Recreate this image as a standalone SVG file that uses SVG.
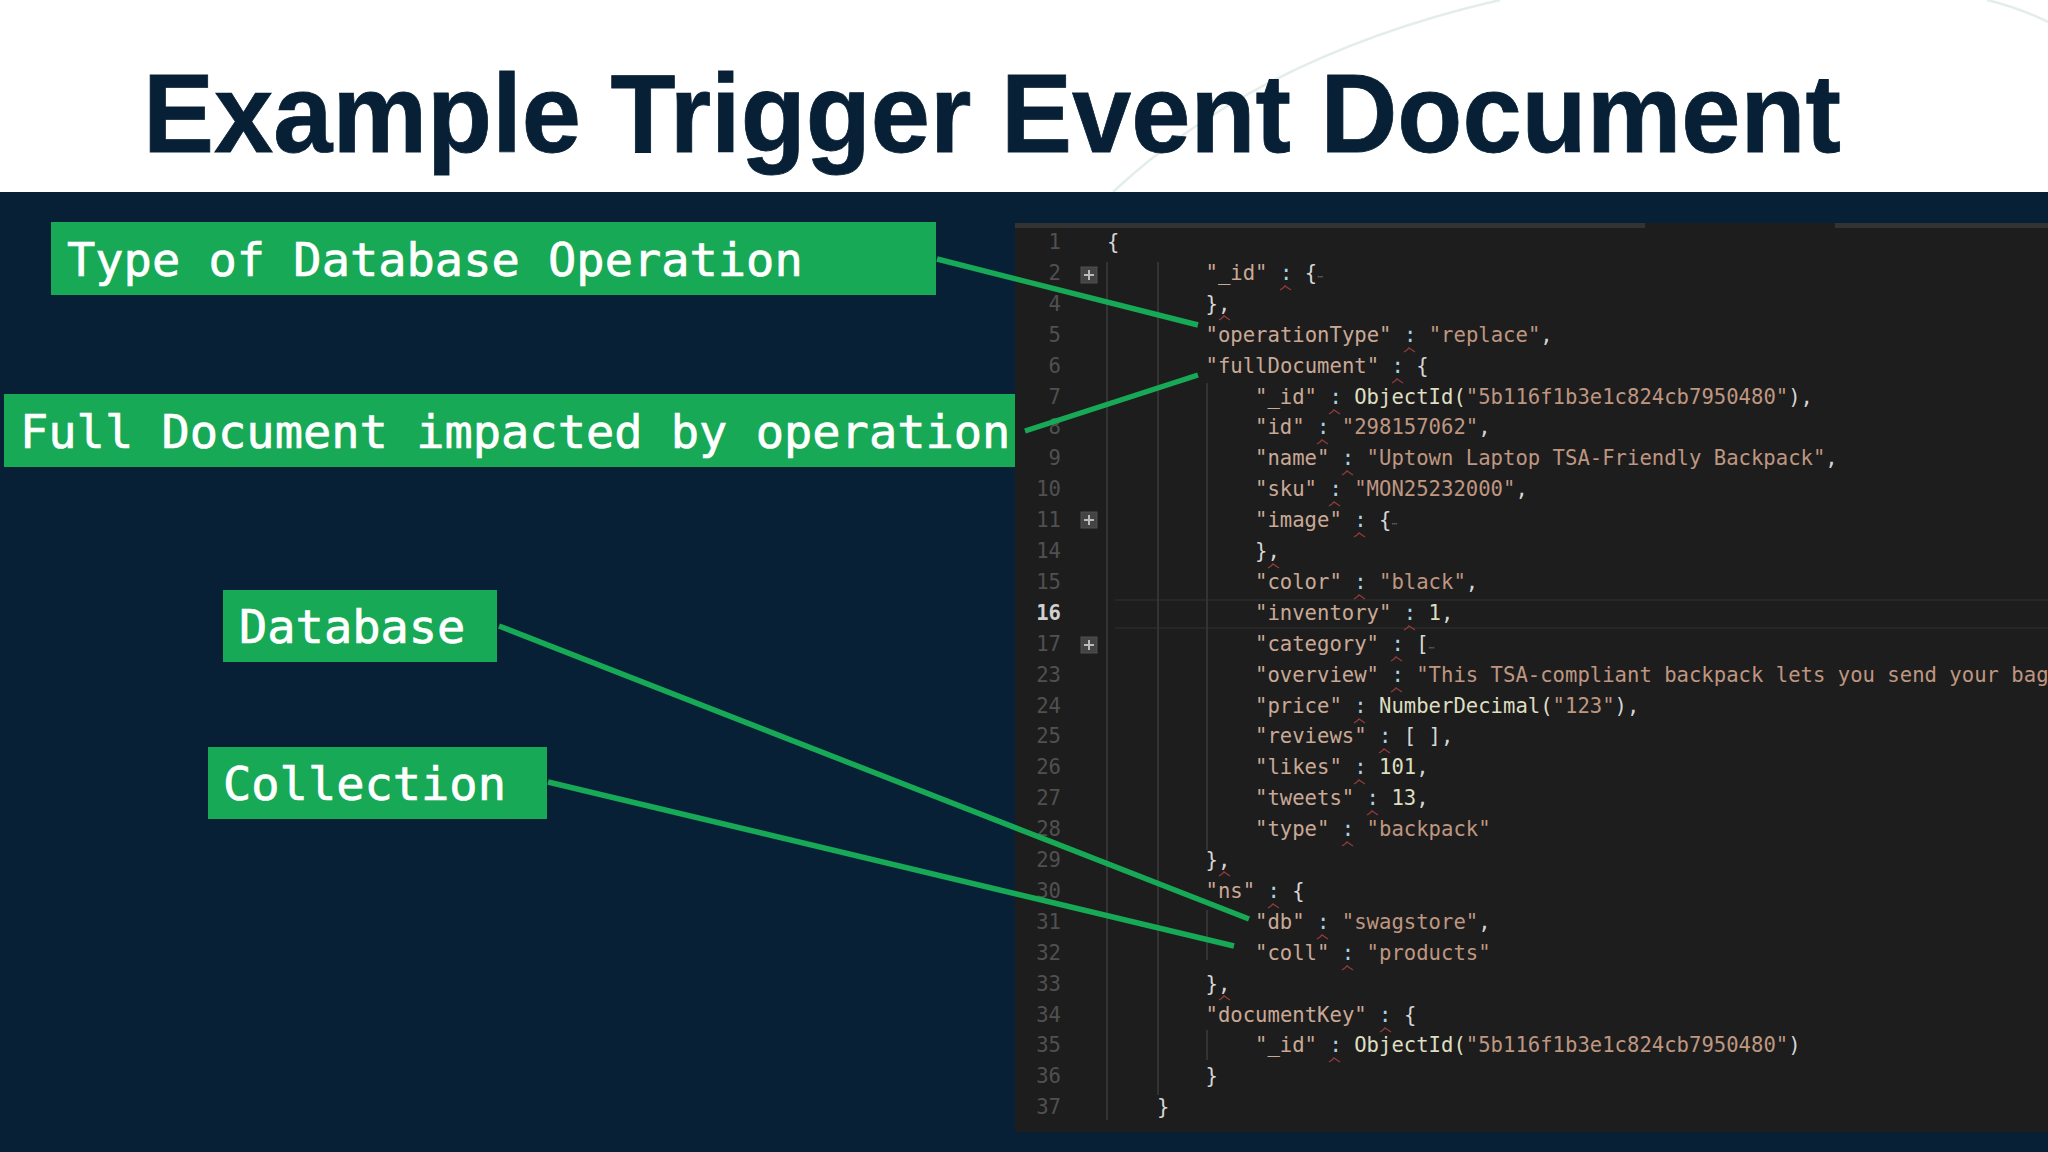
<svg xmlns="http://www.w3.org/2000/svg" width="2048" height="1152" viewBox="0 0 2048 1152">
<style>
.t{font:bold 112px "Liberation Sans",Arial,sans-serif;fill:#072036;stroke:#072036;stroke-width:.8}
.l{font:47px "DejaVu Sans Mono",monospace;fill:#fff;stroke:#fff;stroke-width:.7}
.b{fill:#17a955}
.c{stroke:#17a955;stroke-width:5.5;fill:none}
.code{font:20.6px "DejaVu Sans Mono",monospace;fill:#c9a995;white-space:pre}
.n{font:20.6px "DejaVu Sans Mono",monospace;fill:#505050;text-anchor:end}
.a{fill:#bf9680}.o{fill:#d6d6d6}.f{fill:#dedec0}.k{fill:#a9d3e0}.d{fill:#666;font-size:10px}
.g{stroke:#333;stroke-width:2;fill:none}
.h{stroke:#272727;stroke-width:2;fill:none}
.q{stroke:#8f3a3a;stroke-width:1.4;fill:none}
.fb{fill:#444;stroke:#505050}
.fp{stroke:#bbb;stroke-width:2;fill:none}
</style>
<defs><clipPath id="pc"><rect x="1015" y="223" width="1033" height="909"/></clipPath>
<path id="sq" d="M-6 2L-3 0L-1 -2L2 0L5 2"/></defs>
<rect width="2048" height="1152" fill="#fff"/>
<path d="M1113 192Q1260 55 1500 0M1987 0Q2020 8 2048 22" fill="none" stroke="#e3eeea" stroke-width="2.5"/>
<rect y="192" width="2048" height="960" fill="#072036"/>
<text class="t" x="143" y="151.500" textLength="1698" lengthAdjust="spacingAndGlyphs">Example Trigger Event Document</text>
<g id="code" clip-path="url(#pc)">
<rect x="1015" y="223" width="1033" height="909" fill="#1d1d1e"/>
<path d="M1015 225.500H1645M1835 225.500H2048" stroke="#333" stroke-width="5"/>
<path class="h" d="M1115 600H2048M1115 628H2048"/>
<path class="g" d="M1107 262V1120M1158 262V1095M1207 383V850M1207 910V960M1207 1030V1060"/>
<g id="folds">
<rect class="fb" x="1081" y="267" width="16" height="16"/><path class="fp" d="M1084 275H1094M1089 270V280"/>
<rect class="fb" x="1081" y="512" width="16" height="16"/><path class="fp" d="M1084 520H1094M1089 515V525"/>
<rect class="fb" x="1081" y="637" width="16" height="16"/><path class="fp" d="M1084 645H1094M1089 640V650"/>
</g>
<g id="nums">
<text class="n" x="1061" y="249">1</text><text class="n" x="1061" y="280">2</text><text class="n" x="1061" y="311">4</text><text class="n" x="1061" y="342">5</text><text class="n" x="1061" y="372.600">6</text><text class="n" x="1061" y="403.500">7</text><text class="n" x="1061" y="434.400">8</text><text class="n" x="1061" y="465.300">9</text><text class="n" x="1061" y="496.200">10</text><text class="n" x="1061" y="527.100">11</text><text class="n" x="1061" y="558">14</text><text class="n" x="1061" y="588.900">15</text><text class="n" x="1061" y="619.800" style="fill:#d0d0d0;font-weight:bold">16</text><text class="n" x="1061" y="650.700">17</text><text class="n" x="1061" y="681.600">23</text><text class="n" x="1061" y="712.500">24</text><text class="n" x="1061" y="743.400">25</text><text class="n" x="1061" y="774.300">26</text><text class="n" x="1061" y="805.200">27</text><text class="n" x="1061" y="836.100">28</text><text class="n" x="1061" y="867">29</text><text class="n" x="1061" y="897.900">30</text><text class="n" x="1061" y="928.800">31</text><text class="n" x="1061" y="959.700">32</text><text class="n" x="1061" y="990.600">33</text><text class="n" x="1061" y="1021.500">34</text><text class="n" x="1061" y="1052.400">35</text><text class="n" x="1061" y="1083.300">36</text><text class="n" x="1061" y="1114.200">37</text>
</g>
<g id="lines" xml:space="preserve">
<text class="code o" x="1107" y="249">{</text>
<text class="code" x="1205.500" y="280">"_id" <tspan class="k">:</tspan> <tspan class="o">{</tspan><tspan class="d">⋯</tspan></text>
<text class="code o" x="1205.500" y="311">},</text>
<text class="code" x="1205.500" y="342">"operationType" <tspan class="k">:</tspan> <tspan class="a">"replace"</tspan><tspan class="o">,</tspan></text>
<text class="code" x="1205.500" y="372.600">"fullDocument" <tspan class="k">:</tspan> <tspan class="o">{</tspan></text>
<text class="code" x="1255" y="403.500">"_id" <tspan class="k">:</tspan> <tspan class="f">ObjectId(</tspan><tspan class="a">"5b116f1b3e1c824cb7950480"</tspan><tspan class="o">),</tspan></text>
<text class="code" x="1255" y="434.400">"id" <tspan class="k">:</tspan> <tspan class="a">"298157062"</tspan><tspan class="o">,</tspan></text>
<text class="code" x="1255" y="465.300">"name" <tspan class="k">:</tspan> <tspan class="a">"Uptown Laptop TSA-Friendly Backpack"</tspan><tspan class="o">,</tspan></text>
<text class="code" x="1255" y="496.200">"sku" <tspan class="k">:</tspan> <tspan class="a">"MON25232000"</tspan><tspan class="o">,</tspan></text>
<text class="code" x="1255" y="527.100">"image" <tspan class="k">:</tspan> <tspan class="o">{</tspan><tspan class="d">⋯</tspan></text>
<text class="code o" x="1255" y="558">},</text>
<text class="code" x="1255" y="588.900">"color" <tspan class="k">:</tspan> <tspan class="a">"black"</tspan><tspan class="o">,</tspan></text>
<text class="code" x="1255" y="619.800">"inventory" <tspan class="k">:</tspan> <tspan class="f">1</tspan><tspan class="o">,</tspan></text>
<text class="code" x="1255" y="650.700">"category" <tspan class="k">:</tspan> <tspan class="o">[</tspan><tspan class="d">⋯</tspan></text>
<text class="code" x="1255" y="681.600">"overview" <tspan class="k">:</tspan> <tspan class="a">"This TSA-compliant backpack lets you send your bag</tspan></text>
<text class="code" x="1255" y="712.500">"price" <tspan class="k">:</tspan> <tspan class="f">NumberDecimal(</tspan><tspan class="a">"123"</tspan><tspan class="o">),</tspan></text>
<text class="code" x="1255" y="743.400">"reviews" <tspan class="k">:</tspan> <tspan class="o">[ ],</tspan></text>
<text class="code" x="1255" y="774.300">"likes" <tspan class="k">:</tspan> <tspan class="f">101</tspan><tspan class="o">,</tspan></text>
<text class="code" x="1255" y="805.200">"tweets" <tspan class="k">:</tspan> <tspan class="f">13</tspan><tspan class="o">,</tspan></text>
<text class="code" x="1255" y="836.100">"type" <tspan class="k">:</tspan> <tspan class="a">"backpack"</tspan></text>
<text class="code o" x="1205.500" y="867">},</text>
<text class="code" x="1205.500" y="897.900">"ns" <tspan class="k">:</tspan> <tspan class="o">{</tspan></text>
<text class="code" x="1255" y="928.800">"db" <tspan class="k">:</tspan> <tspan class="a">"swagstore"</tspan><tspan class="o">,</tspan></text>
<text class="code" x="1255" y="959.700">"coll" <tspan class="k">:</tspan> <tspan class="a">"products"</tspan></text>
<text class="code o" x="1205.500" y="990.600">},</text>
<text class="code" x="1205.500" y="1021.500">"documentKey" <tspan class="k">:</tspan> <tspan class="o">{</tspan></text>
<text class="code" x="1255" y="1052.400">"_id" <tspan class="k">:</tspan> <tspan class="f">ObjectId(</tspan><tspan class="a">"5b116f1b3e1c824cb7950480"</tspan><tspan class="o">)</tspan></text>
<text class="code o" x="1205.500" y="1083.300">}</text>
<text class="code o" x="1157" y="1114.200">}</text>
</g>
<g id="squiggles" class="q">
<use href="#sq" x="1286" y="288"/><use href="#sq" x="1225" y="318"/><use href="#sq" x="1410" y="350"/><use href="#sq" x="1398" y="381"/><use href="#sq" x="1335" y="412"/><use href="#sq" x="1323" y="442"/><use href="#sq" x="1348" y="473"/><use href="#sq" x="1335" y="504"/><use href="#sq" x="1360" y="535"/><use href="#sq" x="1274" y="566"/><use href="#sq" x="1360" y="597"/><use href="#sq" x="1410" y="628"/><use href="#sq" x="1397" y="659"/><use href="#sq" x="1397" y="690"/><use href="#sq" x="1360" y="721"/><use href="#sq" x="1385" y="751"/><use href="#sq" x="1360" y="782"/><use href="#sq" x="1373" y="813"/><use href="#sq" x="1348" y="844"/><use href="#sq" x="1225" y="874"/><use href="#sq" x="1274" y="906"/><use href="#sq" x="1323" y="937"/><use href="#sq" x="1348" y="968"/><use href="#sq" x="1225" y="998"/><use href="#sq" x="1386" y="1030"/><use href="#sq" x="1335" y="1060"/>
</g>
</g>
<g id="n1"><rect class="b" x="51" y="222" width="885" height="73"/><text class="l" x="67" y="276">Type of Database Operation</text></g>
<g id="n2"><rect class="b" x="4" y="394" width="1011" height="73"/><text class="l" x="20" y="448">Full Document impacted by operation</text></g>
<g id="n3"><rect class="b" x="223" y="590" width="274" height="72"/><text class="l" x="239" y="643">Database</text></g>
<g id="n4"><rect class="b" x="208" y="747" width="339" height="72"/><text class="l" x="223" y="800">Collection</text></g>
<g id="connectors"><path class="c" d="M937 259L1198 325M1025 431L1198 375M499 626L1249 919M548 782L1234 946"/></g>
</svg>
